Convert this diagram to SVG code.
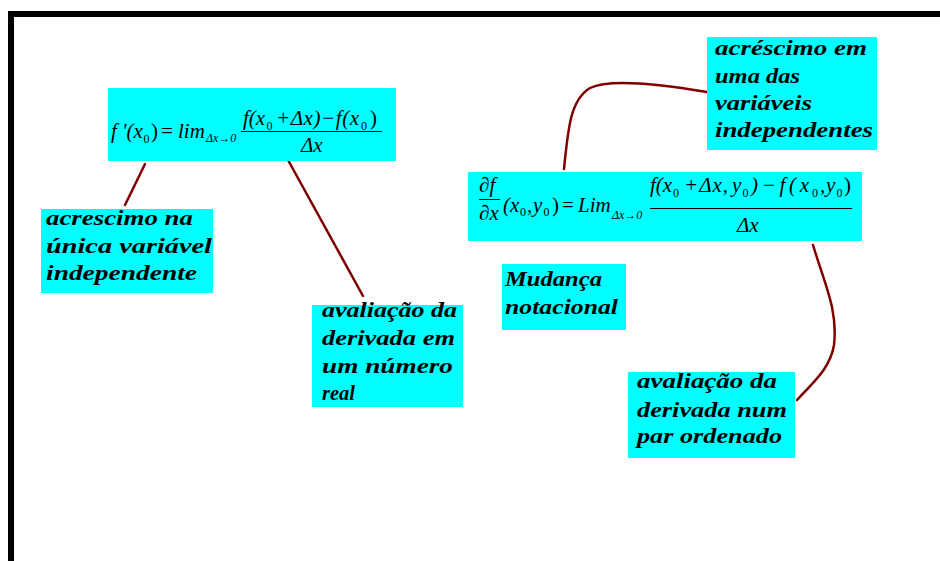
<svg xmlns="http://www.w3.org/2000/svg" width="940" height="561" viewBox="0 0 940 561">
<style>
.box{fill:#00FFFF;stroke:none}
.lbl{font-family:"Liberation Serif","Times New Roman",serif;font-weight:bold;font-style:italic;font-size:22px;fill:#000}
.m{font-family:"Liberation Serif","Times New Roman",serif;font-style:italic;font-size:21px;fill:#000}
.u{font-family:"Liberation Serif","Times New Roman",serif;font-style:normal;font-size:21px;fill:#000}
.s{font-family:"Liberation Serif","Times New Roman",serif;font-style:normal;font-size:12px;fill:#000}
.si{font-family:"Liberation Serif","Times New Roman",serif;font-style:italic;font-size:12px;fill:#000}
.bar{stroke:#000;stroke-width:1}
.con{fill:none;stroke:#800000;stroke-width:2.5;stroke-linecap:round}
</style>
<rect x="0" y="0" width="940" height="561" fill="#fff"/>
<path d="M11,561 V14 H940" fill="none" stroke="#000" stroke-width="6"/>

<g id="connectors">
<line class="con" x1="145" y1="164" x2="125" y2="205"/>
<line class="con" x1="288" y1="160" x2="363" y2="296"/>
<path class="con" d="M564,169 C568,130 570,100 590,88 C610,78 660,84 707,92"/>
<path class="con" d="M813,245 C825,285 838,310 834,345 C830,370 810,385 797,400"/>
</g>

<g id="formula1">
<rect class="box" x="108" y="88" width="288" height="73"/>
<text class="m" x="111" y="138">f '(x</text>
<text class="s" x="143.5" y="143">0</text>
<text class="u" x="151" y="138">)</text>
<text class="u" x="161" y="138">=</text>
<text class="m" x="178" y="138">lim</text>
<text class="si" x="206" y="142">Δx→0</text>
<text class="m" x="243" y="125">f(x</text>
<text class="s" x="266.5" y="130">0</text>
<text class="m" x="276" y="125" textLength="83">+Δx)−f(x</text>
<text class="s" x="361" y="130">0</text>
<text class="u" x="370" y="125">)</text>
<line class="bar" x1="241" y1="131.5" x2="382" y2="131.5"/>
<text class="m" x="301" y="152">Δx</text>
</g>

<g id="formula2">
<rect class="box" x="468" y="172" width="394" height="69"/>
<text class="m" x="479" y="192">∂f</text>
<line class="bar" x1="479" y1="199.5" x2="500" y2="199.5"/>
<text class="m" x="479" y="220">∂x</text>
<text class="m" x="503" y="212">(x</text>
<text class="s" x="520" y="216">0</text>
<text class="m" x="527" y="212">,</text>
<text class="m" x="533" y="212">y</text>
<text class="s" x="543.5" y="216">0</text>
<text class="u" x="552" y="212">)</text>
<text class="u" x="562" y="212">=</text>
<text class="m" x="578" y="212">Lim</text>
<text class="si" x="612" y="219">Δx→0</text>
<text class="m" x="650" y="192">f(x</text>
<text class="s" x="673" y="197">0</text>
<text class="m" x="684" y="192" textLength="44">+Δx,</text>
<text class="m" x="732" y="192">y</text>
<text class="s" x="742.5" y="197">0</text>
<text class="m" x="751" y="192" textLength="58">)−f(x</text>
<text class="s" x="812" y="197">0</text>
<text class="m" x="820" y="192">,</text>
<text class="m" x="826" y="192">y</text>
<text class="s" x="836.5" y="197">0</text>
<text class="u" x="844" y="192">)</text>
<line class="bar" x1="650" y1="208.5" x2="852" y2="208.5"/>
<text class="m" x="737" y="232">Δx</text>
</g>

<g id="acrescimo-unica">
<rect class="box" x="41" y="209" width="172" height="84"/>
<text class="lbl" x="46" y="225" textLength="147" lengthAdjust="spacingAndGlyphs">acrescimo na</text>
<text class="lbl" x="46" y="253" textLength="166" lengthAdjust="spacingAndGlyphs">única variável</text>
<text class="lbl" x="46" y="280" textLength="151" lengthAdjust="spacingAndGlyphs">independente</text>
</g>

<g id="avaliacao-real">
<rect class="box" x="312" y="305" width="151" height="102"/>
<text class="lbl" x="322" y="317" textLength="135" lengthAdjust="spacingAndGlyphs">avaliação da</text>
<text class="lbl" x="322" y="345" textLength="133" lengthAdjust="spacingAndGlyphs">derivada em</text>
<text class="lbl" x="322" y="373" textLength="131" lengthAdjust="spacingAndGlyphs">um número</text>
<text class="lbl" x="322" y="400" textLength="33" lengthAdjust="spacingAndGlyphs">real</text>
</g>

<g id="mudanca">
<rect class="box" x="502" y="264" width="124" height="66"/>
<text class="lbl" x="505" y="286" textLength="97" lengthAdjust="spacingAndGlyphs">Mudança</text>
<text class="lbl" x="505" y="314" textLength="113" lengthAdjust="spacingAndGlyphs">notacional</text>
</g>

<g id="avaliacao-par">
<rect class="box" x="628" y="372" width="167" height="86"/>
<text class="lbl" x="637" y="388" textLength="140" lengthAdjust="spacingAndGlyphs">avaliação da</text>
<text class="lbl" x="637" y="417" textLength="150" lengthAdjust="spacingAndGlyphs">derivada num</text>
<text class="lbl" x="637" y="443" textLength="145" lengthAdjust="spacingAndGlyphs">par ordenado</text>
</g>

<g id="acrescimo-uma">
<rect class="box" x="707" y="37" width="170" height="113"/>
<text class="lbl" x="715" y="55" textLength="152" lengthAdjust="spacingAndGlyphs">acréscimo em</text>
<text class="lbl" x="715" y="83" textLength="85" lengthAdjust="spacingAndGlyphs">uma das</text>
<text class="lbl" x="715" y="110" textLength="97" lengthAdjust="spacingAndGlyphs">variáveis</text>
<text class="lbl" x="715" y="137" textLength="158" lengthAdjust="spacingAndGlyphs">independentes</text>
</g>
</svg>
